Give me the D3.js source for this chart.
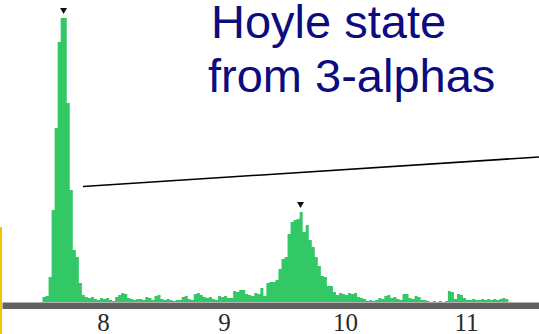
<!DOCTYPE html>
<html>
<head>
<meta charset="utf-8">
<script src="https://cdn.jsdelivr.net/npm/d3@7"></script>
<style>
  body { margin: 0; background: #fff; }
  svg { display: block; }
</style>
</head>
<body>
<script>
// histogram of excitation energy (MeV), bins of 0.025 MeV starting at 7.50
const binStart = 7.5;
const binWidth = 0.025;
const counts = [
  5, 6, 25, 92, 174, 260, 284, 284, 199, 112, 52, 45, 19, 7,
  5, 4, 5, 3, 2, 4, 3, 4, 2, 1, 5, 7, 9, 8, 4, 3, 2, 3, 3, 2, 5, 4, 2, 6, 7, 3,
  2, 3, 2, 1, 2, 2, 5, 6, 3, 2, 8, 9, 7, 5, 4, 5, 3, 2, 6, 5, 6, 4, 4, 11, 10, 12,
  12, 8, 7, 6, 9, 8,
  14, 6, 19, 20, 20, 22, 33, 43, 45, 68, 80, 82, 83, 90, 70, 77, 62, 55, 45, 36,
  26, 25, 16, 16, 10, 7, 9, 8,
  7, 9, 8, 9, 5, 4, 3, 1, 2, 1, 2, 4, 3, 6, 7, 4, 5, 3, 2, 8, 8, 4, 3, 6, 5, 2,
  2, 1, 0, 1, 0, 1, 0, 1, 11, 10, 3, 8, 7, 4, 2, 2, 3, 2, 2, 3, 2, 3, 2, 3, 2, 3, 4, 3
];
const tickValues = [8, 9, 10, 11];
const peaks = [7.674, 9.632];
const title = ["Hoyle state", "from 3-alphas"];

const width = 539, height = 334;
const svg = d3.select("body").append("svg")
  .attr("width", width)
  .attr("height", height);

const x = d3.scaleLinear().domain([7.165, 11.603]).range([2, 539]);
const y = d3.scaleLinear().domain([0, 300]).range([302, 2]);

const bins = counts.map((c, i) => ({ x0: binStart + i * binWidth, c: c }));
bins.push({ x0: binStart + counts.length * binWidth, c: 0 });

let area = d3.area()
  .curve(d3.curveStepAfter)
  .x((d) => x(d.x0))
  .y0(y(0))
  .y1((d) => y(d.c));

svg.append("path")
  .datum(bins)
  .attr("d", area)
  .attr("fill", "#33c866");

// peak markers
const peakIdx = (e) => Math.floor((e - binStart) / binWidth);
svg.selectAll(".peak")
  .data(peaks)
  .enter().append("path")
  .attr("class", "peak")
  .attr("transform", (d) => {
    let i = peakIdx(d);
    let top = d3.max(counts.slice(Math.max(0, i - 1), i + 2));
    return `translate(${x(d)},${y(top) - 4})`;
  })
  .attr("d", "M-3.5,-6L3.5,-6L0,0Z")
  .attr("fill", "#111");

// axis
let axis = svg.append("g")
  .attr("transform", "translate(0,305.25)")
  .call(d3.axisBottom(x).tickValues(tickValues).tickSize(0).tickSizeOuter(0)
    .tickFormat(d3.format("d")));
axis.select(".domain")
  .attr("stroke", "#626262")
  .attr("stroke-width", 6.5);
axis.selectAll("text")
  .attr("y", 25.5)
  .attr("dy", null)
  .attr("fill", "#2a2a2a")
  .style("font-family", "'Liberation Serif', 'DejaVu Serif', serif")
  .style("font-size", "25px");

// pointer line and edge mark
svg.append("line")
  .attr("x1", 83).attr("y1", 186.5)
  .attr("x2", 539).attr("y2", 157)
  .attr("stroke", "#000")
  .attr("stroke-width", 1.5);

svg.append("rect")
  .attr("x", 0).attr("y", 227)
  .attr("width", 2).attr("height", 107)
  .attr("fill", "#f5c400");

svg.append("text")
  .attr("x", 210)
  .attr("y", 38)
  .attr("fill", "#0c0c80")
  .style("font-family", "'Liberation Sans', Arial, sans-serif")
  .style("font-size", "47px")
  .selectAll("tspan")
  .data(title)
  .enter().append("tspan")
  .attr("x", (d, i) => i ? 208 : 211)
  .attr("dy", (d, i) => i ? 54 : 0)
  .text((d) => d);
</script>
</body>
</html>
